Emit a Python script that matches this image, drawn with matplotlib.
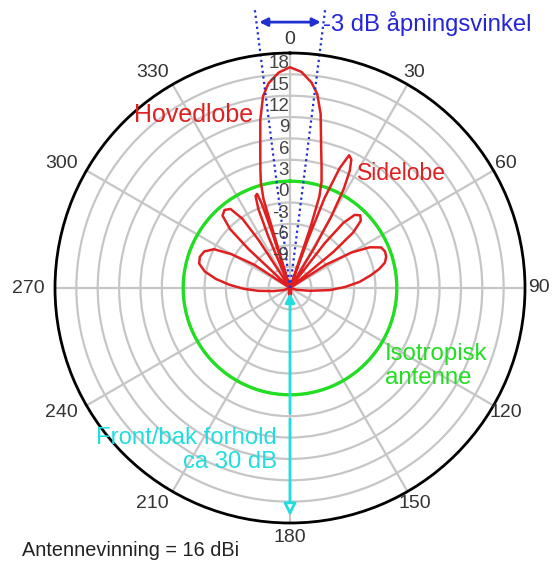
import numpy as np
import matplotlib
matplotlib.use("Agg")
import matplotlib.pyplot as plt

plt.rcParams['font.family'] = ['Liberation Sans', 'DejaVu Sans']

# ---- data ----
pattern_deg = [-180, -170, -160, -150, -118,
               -108, -100, -95, -91, -87, -83, -79, -75, -71, -67, -63, -60, -57, -55,
               -48, -46.8, -45.5, -43, -40, -37, -34.5, -33.2, -32,
               -23.5, -22.8, -21.8, -20.5, -19.3, -18.5, -17.8, -17.4,
               -17.2, -16.6, -15.5, -14, -12.3, -10, -8, -6, -3, 0, 3, 6, 8, 10, 12.5, 14.5, 16.5, 17.8, 18.6, 19.2,
               19.5, 20.2, 21, 22.5, 24, 25.5, 27, 28.5, 30, 31.2, 32.2,
               36.5, 37.8, 39.3, 41.5, 44, 46.5, 48.7, 50.2, 51.5,
               55, 57, 60, 63, 66, 69, 72, 75, 78, 81, 85, 89, 93, 98, 105, 115,
               150, 160, 170, 180]
pattern_db = [-14, -14.2, -14.6, -15, -15,
              -14, -12.5, -10.5, -8.5, -6.5, -4.5, -2.8, -1.8, -1.6, -1.9, -3, -5.5, -9, -15,
              -15, -7, -3.2, -1.1, -0.7, -1.1, -3.2, -7, -15,
              -15, -7, -3, -1.2, -1.0, -2.5, -7, -15,
              -15, -2, 0.3, 2.2, 4.6, 9.0, 12.2, 13.9, 15.3, 16.0, 15.4, 14.0, 12.5, 9.8, 5.2, 2.7, 0.6, -1.5, -6, -15,
              -15, -8, -1.5, 3.2, 5.4, 5.0, 3.5, 0.8, -3.5, -8.5, -15,
              -15, -7, -3.2, -1.3, -0.8, -1.3, -3.2, -7, -15,
              -15, -9, -5, -2.4, -1.0, -0.7, -0.8, -1.2, -2.2, -3.5, -5.2, -7.3, -9.4, -12.2, -14, -15,
              -15, -14.6, -14.2, -14]
iso_db = 0.0
ring_levels = [-12, -9, -6, -3, 0, 3, 6, 9, 12, 15]
ring_labels = [-9, -6, -3, 0, 3, 6, 9, 12, 15, 18]
angle_ticks = [0, 30, 60, 90, 120, 150, 180, 210, 240, 270, 300, 330]
beam_half_deg = 7.2
r_min, r_max = -15, 18

W, H = 554, 561
fig = plt.figure(figsize=(W / 100, H / 100), dpi=100)
cx, cy, R = 290, 288, 235
ax = fig.add_axes([(cx - R) / W, 1 - (cy + R) / H, 2 * R / W, 2 * R / H], projection='polar')
ax.set_theta_zero_location('N')
ax.set_theta_direction(-1)
ax.set_ylim(r_min, r_max)
ax.set_yticks(ring_levels)
ax.set_yticklabels([])
ax.set_xticks(np.deg2rad(angle_ticks))
ax.set_xticklabels([])
ax.grid(True, color='#c6c6c6', lw=1.6)
ax.spines['polar'].set_color('black')
ax.spines['polar'].set_linewidth(2.0)

px_per_db = R / (r_max - r_min)

# ring labels along 0 deg
for v in ring_labels:
    ax.annotate(str(v), xy=(0, v - 1.5), xytext=(-1, 0), textcoords='offset pixels',
                ha='right', va='center', fontsize=13.5, color='#444444')

# angle labels
for a in angle_ticks:
    dx = -13 if 180 < a < 360 else 0
    ax.annotate(str(a), xy=(np.deg2rad(a), r_max + 14 / px_per_db), xytext=(dx, 0),
                textcoords='offset pixels', ha='center', va='center',
                fontsize=14, color='#333333', annotation_clip=False)

# isotropic circle
th = np.deg2rad(np.arange(0, 361, 1))
ax.plot(th, np.full_like(th, iso_db), color='#22dd22', lw=2.4)

# antenna pattern
ax.plot(np.deg2rad(pattern_deg), pattern_db, color='#e02020', lw=1.8)

# -3 dB beamwidth lines
r_top = r_max + 47 / px_per_db
for s in (-1, 1):
    ax.plot([0, np.deg2rad(s * beam_half_deg)], [r_min, r_top], color='#2030d0', lw=1.6,
            ls=(0, (1, 1.5)), clip_on=False)
r_arr = r_max + 33 / px_per_db
ax.annotate('', xy=(np.deg2rad(beam_half_deg), r_arr), xytext=(np.deg2rad(-beam_half_deg), r_arr),
            arrowprops=dict(arrowstyle='<|-|>', color='#2030d0', lw=2, mutation_scale=12),
            annotation_clip=False)

# front/back arrow
ax.annotate('', xy=(np.pi, r_min + 0.3), xytext=(np.pi, 3),
            arrowprops=dict(arrowstyle='-|>', color='#22dddd', lw=2, mutation_scale=14),
            annotation_clip=False)
ax.annotate('', xy=(np.pi, r_max - 0.6), xytext=(np.pi, 3),
            arrowprops=dict(arrowstyle='-|>', ec='#22dddd', fc='white', lw=2, mutation_scale=18),
            annotation_clip=False)


def ftext(x, y, s, **kw):
    fig.text(x / W, 1 - y / H, s, **kw)


ftext(323, 24, '-3 dB åpningsvinkel', ha='left', va='center', fontsize=17.2, color='#2424d8')
ftext(194, 115, 'Hovedlobe', ha='center', va='center', fontsize=18, color='#e02020')
ftext(401, 174, 'Sidelobe', ha='center', va='center', fontsize=16.5, color='#e02020')
ftext(385, 366, 'Isotropisk\nantenne', ha='left', va='center', fontsize=17.3, color='#22dd22',
      linespacing=1.15)
ftext(277, 450, 'Front/bak forhold\nca 30 dB', ha='right', va='center', fontsize=17.2,
      color='#22dddd', multialignment='right', linespacing=1.1)
ftext(22, 550, 'Antennevinning = 16 dBi', ha='left', va='center', fontsize=14.3, color='#222222')

fig.savefig('out.png', dpi=100)
